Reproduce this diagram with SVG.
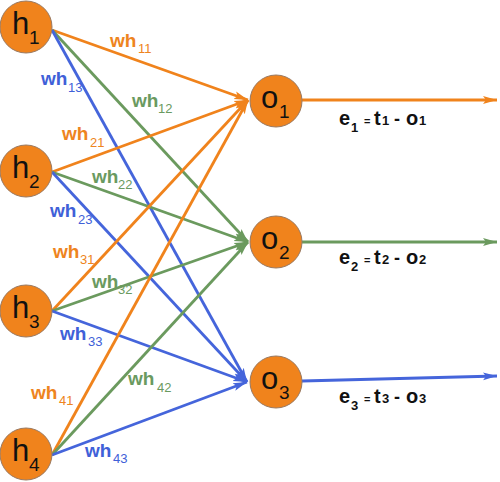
<svg xmlns="http://www.w3.org/2000/svg" width="500" height="482" viewBox="0 0 500 482">
<style>
.node{fill:#F0831C;stroke:#9A7A62;stroke-width:1}
.nl{font-family:"Liberation Sans",Arial,sans-serif;font-size:31px;fill:#111}
.ns{font-family:"Liberation Sans",Arial,sans-serif;font-size:19px;fill:#111}
.e{fill:none;stroke-width:2.8}
.or{stroke:#F0831C}.gr{stroke:#6B9A5E}.bl{stroke:#4565DB}
.w{font-family:"Liberation Sans",Arial,sans-serif;font-weight:bold;font-size:19px}
.s{font-family:"Liberation Sans",Arial,sans-serif;font-size:13px}
.to{fill:#EE8420}.tg{fill:#6A9A60}.tb{fill:#4060D8}
.eq{font-family:"Liberation Sans",Arial,sans-serif;font-weight:bold;fill:#111}
</style>
<defs>
<marker id="ao" markerUnits="userSpaceOnUse" markerWidth="15" markerHeight="10" refX="14" refY="5" orient="auto"><path d="M0,1 L14,5 L0,9 L3,5 Z" fill="#F0831C"/></marker>
<marker id="ag" markerUnits="userSpaceOnUse" markerWidth="15" markerHeight="10" refX="14" refY="5" orient="auto"><path d="M0,1 L14,5 L0,9 L3,5 Z" fill="#6B9A5E"/></marker>
<marker id="ab" markerUnits="userSpaceOnUse" markerWidth="15" markerHeight="10" refX="14" refY="5" orient="auto"><path d="M0,1 L14,5 L0,9 L3,5 Z" fill="#4565DB"/></marker>
</defs>
<g id="connectors">
<line class="e or" x1="52" y1="30" x2="248" y2="100" marker-end="url(#ao)"/>
<line class="e gr" x1="52" y1="30" x2="248" y2="242" marker-end="url(#ag)"/>
<line class="e bl" x1="52" y1="30" x2="247" y2="382" marker-end="url(#ab)"/>
<line class="e or" x1="52" y1="172" x2="248" y2="100" marker-end="url(#ao)"/>
<line class="e gr" x1="52" y1="172" x2="248" y2="242" marker-end="url(#ag)"/>
<line class="e bl" x1="52" y1="172" x2="247" y2="382" marker-end="url(#ab)"/>
<line class="e or" x1="52" y1="311" x2="248" y2="100" marker-end="url(#ao)"/>
<line class="e gr" x1="52" y1="311" x2="248" y2="242" marker-end="url(#ag)"/>
<line class="e bl" x1="52" y1="311" x2="247" y2="382" marker-end="url(#ab)"/>
<line class="e or" x1="52" y1="455" x2="248" y2="100" marker-end="url(#ao)"/>
<line class="e gr" x1="52" y1="455" x2="248" y2="242" marker-end="url(#ag)"/>
<line class="e bl" x1="52" y1="455" x2="247" y2="382" marker-end="url(#ab)"/>
<line class="e or" x1="302" y1="100" x2="497" y2="100" marker-end="url(#ao)"/>
<line class="e gr" x1="302" y1="242" x2="497" y2="242" marker-end="url(#ag)"/>
<line class="e bl" x1="302" y1="381" x2="497" y2="376" marker-end="url(#ab)"/>
</g>
<g id="weights">
<text class="w to" x="110" y="47">wh</text><text class="s to" x="138" y="53">11</text>
<text class="w tb" x="41" y="85">wh</text><text class="s tb" x="68" y="92">13</text>
<text class="w tg" x="132" y="107">wh</text><text class="s tg" x="158" y="113">12</text>
<text class="w to" x="62" y="140">wh</text><text class="s to" x="90" y="147">21</text>
<text class="w tg" x="92" y="183">wh</text><text class="s tg" x="118" y="189">22</text>
<text class="w tb" x="50" y="217">wh</text><text class="s tb" x="78" y="224">23</text>
<text class="w to" x="53" y="258">wh</text><text class="s to" x="80" y="264">31</text>
<text class="w tg" x="92" y="288">wh</text><text class="s tg" x="118" y="294">32</text>
<text class="w tb" x="60" y="340">wh</text><text class="s tb" x="88" y="346">33</text>
<text class="w tg" x="128" y="385">wh</text><text class="s tg" x="157" y="392">42</text>
<text class="w to" x="31" y="399">wh</text><text class="s to" x="59" y="405">41</text>
<text class="w tb" x="85" y="457">wh</text><text class="s tb" x="113" y="463">43</text>
</g>
<g id="h1"><circle class="node" cx="26" cy="27" r="26"/><text class="nl" x="12" y="34">h</text><text class="ns" x="29" y="44">1</text></g>
<g id="h2"><circle class="node" cx="26" cy="171" r="26"/><text class="nl" x="12" y="178">h</text><text class="ns" x="29" y="188">2</text></g>
<g id="h3"><circle class="node" cx="26" cy="311" r="26"/><text class="nl" x="12" y="318">h</text><text class="ns" x="29" y="328">3</text></g>
<g id="h4"><circle class="node" cx="26" cy="454" r="26"/><text class="nl" x="12" y="461">h</text><text class="ns" x="29" y="471">4</text></g>
<g id="o1"><circle class="node" cx="276" cy="101" r="26"/><text class="nl" x="261" y="108">o</text><text class="ns" x="279" y="118">1</text></g>
<g id="o2"><circle class="node" cx="276" cy="242" r="26"/><text class="nl" x="261" y="249">o</text><text class="ns" x="279" y="259">2</text></g>
<g id="o3"><circle class="node" cx="276" cy="382" r="26"/><text class="nl" x="261" y="389">o</text><text class="ns" x="279" y="399">3</text></g>
<g id="errors">
<text class="eq" x="339" y="125" font-size="20">e</text><text class="eq" x="351" y="132" font-size="13">1</text><text class="eq" x="364" y="125" font-size="11">=</text><text class="eq" x="374" y="125" font-size="20">t</text><text class="eq" x="382" y="125" font-size="13">1</text><text class="eq" x="394" y="125" font-size="18">-</text><text class="eq" x="406" y="125" font-size="20">o</text><text class="eq" x="419" y="125" font-size="13">1</text>
<text class="eq" x="339" y="264" font-size="20">e</text><text class="eq" x="351" y="271" font-size="13">2</text><text class="eq" x="364" y="264" font-size="11">=</text><text class="eq" x="374" y="264" font-size="20">t</text><text class="eq" x="382" y="264" font-size="13">2</text><text class="eq" x="394" y="264" font-size="18">-</text><text class="eq" x="406" y="264" font-size="20">o</text><text class="eq" x="419" y="264" font-size="13">2</text>
<text class="eq" x="339" y="403" font-size="20">e</text><text class="eq" x="351" y="410" font-size="13">3</text><text class="eq" x="364" y="403" font-size="11">=</text><text class="eq" x="374" y="403" font-size="20">t</text><text class="eq" x="382" y="403" font-size="13">3</text><text class="eq" x="394" y="403" font-size="18">-</text><text class="eq" x="406" y="403" font-size="20">o</text><text class="eq" x="419" y="403" font-size="13">3</text>
</g>
</svg>
